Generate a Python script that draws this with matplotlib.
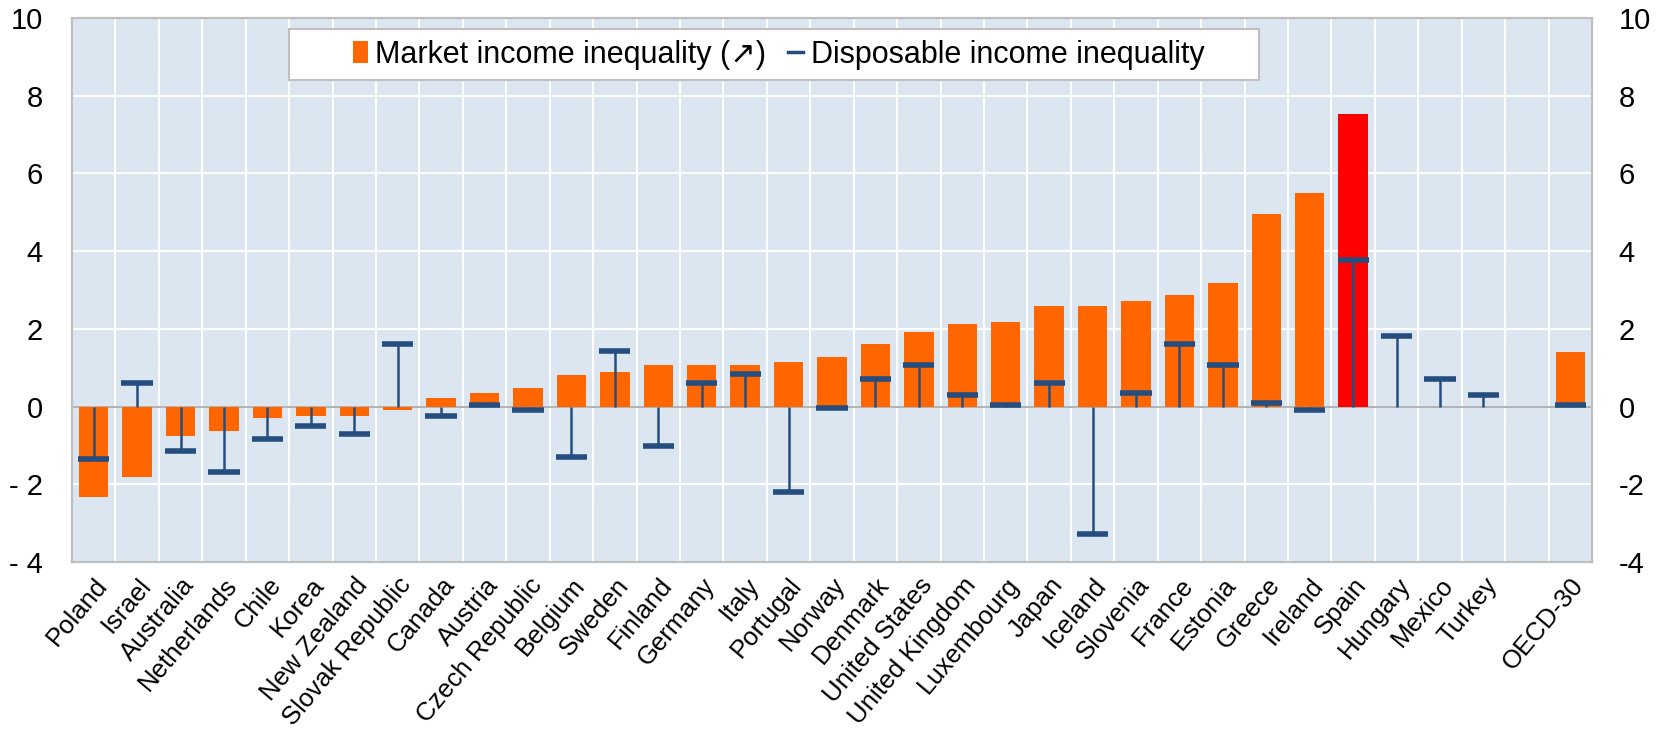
import numpy as np
import matplotlib.pyplot as plt
from matplotlib.patches import Patch, Rectangle
from matplotlib.lines import Line2D

plt.rcParams['font.family'] = ['Liberation Sans', 'DejaVu Sans']

countries = ['Poland', 'Israel', 'Australia', 'Netherlands', 'Chile', 'Korea',
             'New Zealand', 'Slovak Republic', 'Canada', 'Austria', 'Czech Republic',
             'Belgium', 'Sweden', 'Finland', 'Germany', 'Italy', 'Portugal', 'Norway',
             'Denmark', 'United States', 'United Kingdom', 'Luxembourg', 'Japan',
             'Iceland', 'Slovenia', 'France', 'Estonia', 'Greece', 'Ireland', 'Spain',
             'Hungary', 'Mexico', 'Turkey', '', 'OECD-30']

market = [-2.33, -1.81, -0.76, -0.62, -0.29, -0.24, -0.24, -0.08, 0.22, 0.35, 0.48,
          0.81, 0.89, 1.07, 1.07, 1.07, 1.14, 1.27, 1.60, 1.93, 2.12, 2.19, 2.59,
          2.59, 2.71, 2.86, 3.18, 4.95, 5.50, 7.52, np.nan, np.nan, np.nan, np.nan, 1.40]

disposable = [-1.35, 0.62, -1.14, -1.69, -0.83, -0.50, -0.70, 1.60, -0.24, 0.05, -0.10,
              -1.29, 1.43, -1.02, 0.62, 0.83, -2.21, -0.04, 0.70, 1.08, 0.29, 0.03, 0.62,
              -3.27, 0.36, 1.60, 1.08, 0.10, -0.10, 3.78, 1.81, 0.70, 0.30, np.nan, 0.04]

yticks = [-4, -2, 0, 2, 4, 6, 8, 10]

orange = '#FF6600'
red = '#FF0000'
navy = '#254E7E'
bg = '#DCE6F1'

fig = plt.figure(figsize=(16.66, 7.34), dpi=100)
ax = fig.add_axes([0.0432, 0.2343, 0.9124, 0.7411])
ax.set_facecolor(bg)

x = np.arange(len(countries))
colors = [red if c == 'Spain' else orange for c in countries]
ax.bar(x, market, width=0.68, color=colors, zorder=3)

ax.axhline(0, color='#A6A6A6', lw=1.2, zorder=2)

disp = np.array(disposable)
ok = ~np.isnan(disp)
ax.vlines(x[ok], 0, disp[ok], color=navy, lw=1.8, zorder=4)
ax.hlines(disp[ok], x[ok] - 0.36, x[ok] + 0.36, color=navy, lw=4, zorder=4)

ax.set_xlim(-0.5, len(countries) - 0.5)
ax.set_ylim(-4, 10)

# grid: white lines between slots and at every y tick
for b in np.arange(0.5, len(countries) - 0.5, 1):
    ax.axvline(b, color='white', lw=1.5, zorder=1)
for t in yticks[1:-1]:
    ax.axhline(t, color='white', lw=1.5, zorder=1)

ax.set_yticks(yticks)
ax.set_yticklabels([str(t).replace('-', '- ') for t in yticks], fontsize=21)
ax.tick_params(axis='both', length=0)
ax.tick_params(axis='y', pad=21)

ax2 = ax.twinx()
ax2.set_ylim(-4, 10)
ax2.set_yticks(yticks)
ax2.set_yticklabels([str(t) for t in yticks], fontsize=21)
ax2.tick_params(axis='y', length=0, pad=19)

ax.set_xticks(x)
ax.set_xticklabels(countries, rotation=50, ha='right', rotation_mode='anchor', fontsize=18.5)
ax.tick_params(axis='x', pad=8)

for a in (ax, ax2):
    for s in a.spines.values():
        s.set_color('#BFBFBF')
        s.set_linewidth(1.5)

# legend box drawn separately so its padding can match the original
ax2.add_patch(Rectangle((0.1428, 0.886), 0.6382, 0.094, transform=ax.transAxes,
                        facecolor='white', edgecolor='#BFBFBF', lw=1.5, zorder=9))

handles = [Patch(facecolor=orange, edgecolor='none'),
           Line2D([0], [0], color=navy, lw=2.5)]
labels = ['Market income inequality (\u2197)', 'Disposable income inequality']
leg = ax2.legend(handles, labels, loc='center', bbox_to_anchor=(0.4648, 0.933),
                 bbox_transform=ax.transAxes,
                 ncol=2, fontsize=22, frameon=False,
                 handlelength=0.5, handleheight=0.7, handletextpad=0.25,
                 columnspacing=0.7, borderpad=0.0)
leg.set_zorder(10)

fig.savefig('out.png', dpi=100)
